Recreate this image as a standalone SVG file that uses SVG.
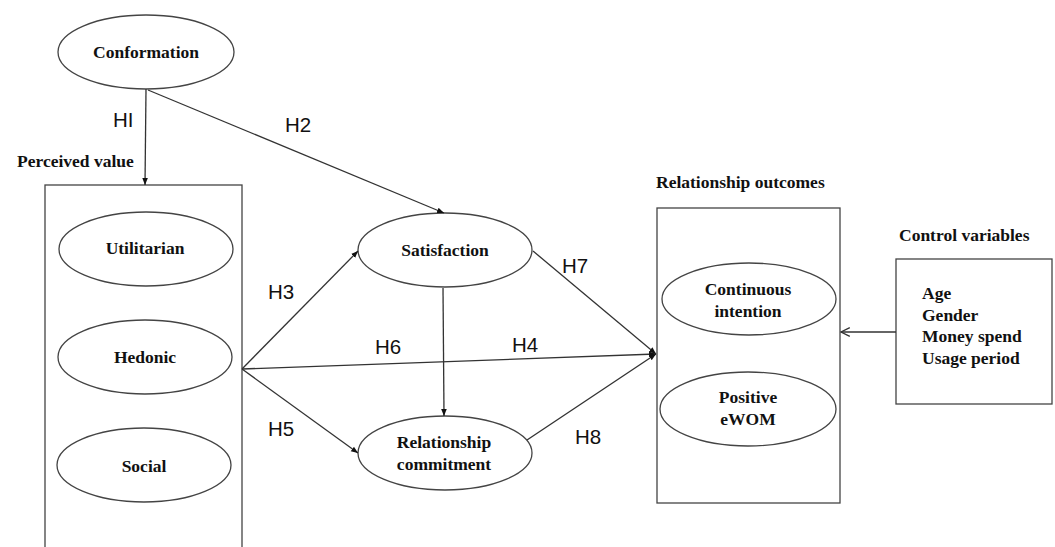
<svg xmlns="http://www.w3.org/2000/svg" width="1055" height="547" viewBox="0 0 1055 547">
<style>
.n{fill:#fff;stroke:#444;stroke-width:1.3}
.t{font-family:"Liberation Serif",serif;font-weight:bold;font-size:17.5px;fill:#111;text-anchor:middle}
.tl{font-family:"Liberation Serif",serif;font-weight:bold;font-size:17.5px;fill:#111}
.h{font-family:"Liberation Sans",Arial,sans-serif;font-size:20.5px;fill:#111}
.c{stroke:#333;stroke-width:1.3;fill:none}
</style>
<defs>
<marker id="a" viewBox="0 0 10 10" refX="10" refY="5" markerWidth="7" markerHeight="7" orient="auto" markerUnits="userSpaceOnUse">
<path d="M0,1 L10,5 L0,9 Z" fill="#111"/>
</marker>
<marker id="o" viewBox="0 0 10 10" refX="9" refY="5" markerWidth="11" markerHeight="11" orient="auto" markerUnits="userSpaceOnUse">
<path d="M1,1 L9,5 L1,9" fill="none" stroke="#333" stroke-width="1.2"/>
</marker>
</defs>
<rect width="1055" height="547" fill="#fff"/>
<g id="perceived-value">
<rect class="n" x="45" y="185" width="197" height="370"/>
<text class="tl" x="17" y="167">Perceived value</text>
</g>
<g id="relationship-outcomes">
<rect class="n" x="657" y="208" width="183" height="295"/>
<text class="tl" x="656" y="188">Relationship outcomes</text>
</g>
<g id="control-variables">
<rect class="n" x="896" y="259" width="156" height="145"/>
<text class="tl" x="899" y="241">Control variables</text>
<text class="tl" x="922" y="299">Age</text>
<text class="tl" x="922" y="321">Gender</text>
<text class="tl" x="922" y="342">Money spend</text>
<text class="tl" x="922" y="364">Usage period</text>
</g>
<g id="conformation">
<ellipse class="n" cx="146" cy="52" rx="88" ry="37"/>
<text class="t" x="146" y="58">Conformation</text>
</g>
<g id="utilitarian">
<ellipse class="n" cx="146" cy="249" rx="87" ry="37"/>
<text class="t" x="145" y="254">Utilitarian</text>
</g>
<g id="hedonic">
<ellipse class="n" cx="145" cy="357" rx="87" ry="37"/>
<text class="t" x="145" y="363">Hedonic</text>
</g>
<g id="social">
<ellipse class="n" cx="144" cy="465" rx="87" ry="37"/>
<text class="t" x="144" y="472">Social</text>
</g>
<g id="satisfaction">
<ellipse class="n" cx="445" cy="250" rx="87" ry="37"/>
<text class="t" x="445" y="256">Satisfaction</text>
</g>
<g id="relationship-commitment">
<ellipse class="n" cx="445" cy="453" rx="87" ry="37"/>
<text class="t" x="444" y="448">Relationship</text>
<text class="t" x="444" y="470">commitment</text>
</g>
<g id="continuous-intention">
<ellipse class="n" cx="749" cy="299" rx="87" ry="36"/>
<text class="t" x="748" y="295">Continuous</text>
<text class="t" x="748" y="317">intention</text>
</g>
<g id="positive-ewom">
<ellipse class="n" cx="748" cy="409" rx="88" ry="37"/>
<text class="t" x="748" y="403">Positive</text>
<text class="t" x="748" y="425">eWOM</text>
</g>
<g id="connectors">
<line class="c" x1="146" y1="89" x2="145" y2="185" marker-end="url(#a)"/>
<line class="c" x1="148" y1="90" x2="444" y2="213" marker-end="url(#a)"/>
<line class="c" x1="242" y1="369" x2="358" y2="251" marker-end="url(#a)"/>
<line class="c" x1="242" y1="369" x2="358" y2="453" marker-end="url(#a)"/>
<line class="c" x1="242" y1="369" x2="656" y2="354" marker-end="url(#a)"/>
<line class="c" x1="443" y1="288" x2="444" y2="416" marker-end="url(#a)"/>
<line class="c" x1="533" y1="251" x2="656" y2="354" marker-end="url(#a)"/>
<line class="c" x1="527" y1="440" x2="656" y2="354" marker-end="url(#a)"/>
<line class="c" x1="896" y1="332" x2="841" y2="332" marker-end="url(#o)"/>
<text class="h" x="113" y="127">HI</text>
<text class="h" x="285" y="132">H2</text>
<text class="h" x="268" y="299">H3</text>
<text class="h" x="268" y="436">H5</text>
<text class="h" x="375" y="354">H6</text>
<text class="h" x="512" y="352">H4</text>
<text class="h" x="562" y="273">H7</text>
<text class="h" x="575" y="444">H8</text>
</g>
</svg>
